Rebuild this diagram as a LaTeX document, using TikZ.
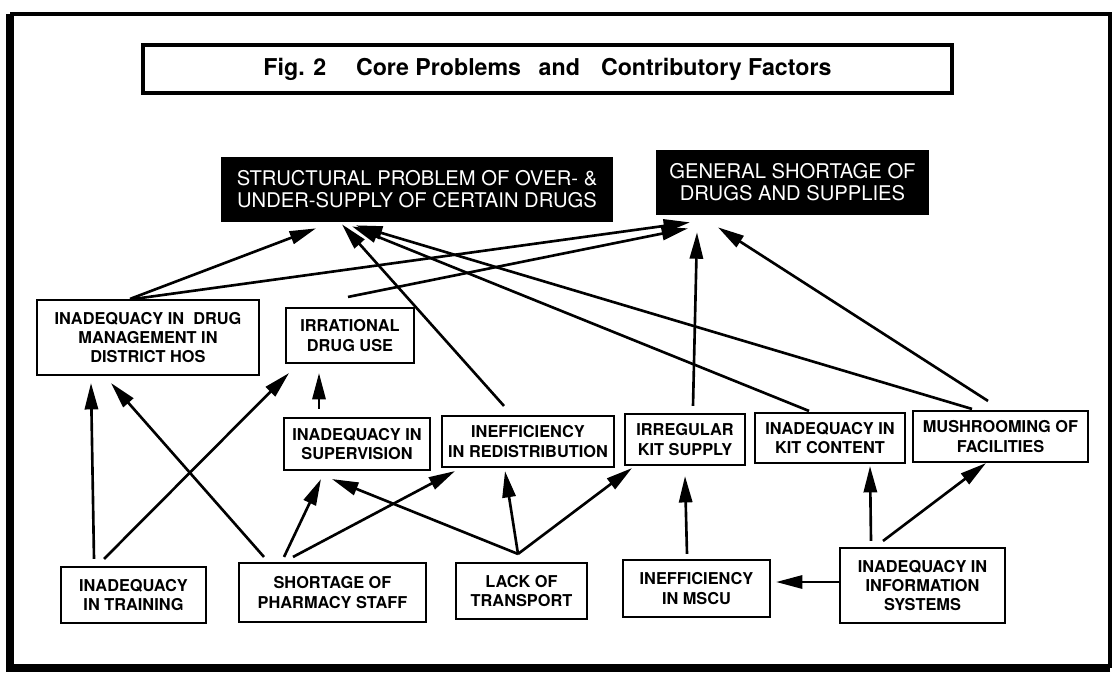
\documentclass[tikz,border=0pt]{standalone}
\usepackage{fontspec}
\setmainfont{TeX Gyre Heros}
\usetikzlibrary{arrows.meta,calc}
\tikzset{>={Triangle[length=15pt,width=7.5pt]}}
\tikzset{
  factor/.style={draw, line width=1.2pt, align=center, inner sep=2pt,
    font=\fontsize{9.3}{11}\selectfont\bfseries},
  core/.style={fill=black, text=white, align=center,
    font=\fontsize{11.5}{12.5}\selectfont},
  boxsize/.style 2 args={minimum width=#1*0.02cm, minimum height=#2*0.02cm},
  link/.style={->, line width=1.5pt}
}

\begin{document}
\begin{tikzpicture}[x=0.02cm, y=-0.02cm]
    \useasboundingbox (0,0) rectangle (1114,676);
    % frame
    \draw[line width=1.8pt] (10,14) -- (1110,14) -- (1110,668);
    \draw[line width=4pt] (1110,668) -- (10,668) -- (10,14);
    % title
    \node[draw, line width=1.8pt, boxsize={809}{48},
      font=\fontsize{13.2}{15}\selectfont\bfseries] (title) at (547.5,69)
      {Fig. 2\hspace{17pt}Core Problems\hspace{10pt}and\hspace{12pt}Contributory Factors};
    % core problems
    \node[core, boxsize={392}{65}] (struct) at (417,189.5)
      {STRUCTURAL PROBLEM OF OVER- \&\\UNDER-SUPPLY OF CERTAIN DRUGS};
    \node[core, boxsize={273}{65}] (general) at (792.5,182.5)
      {GENERAL SHORTAGE OF\\DRUGS AND SUPPLIES};
    % middle row
    \node[factor, boxsize={222}{75}] (drug) at (148,337.5)
      {INADEQUACY IN \ DRUG\\MANAGEMENT IN\\DISTRICT HOS};
    \node[factor, boxsize={128}{55}] (irr) at (350,335.5) {IRRATIONAL\\DRUG USE};
    \node[factor, boxsize={146}{52}] (superv) at (357,444) {INADEQUACY IN\\SUPERVISION};
    \node[factor, boxsize={172}{51}] (redist) at (528,441.5) {INEFFICIENCY\\IN REDISTRIBUTION};
    \node[factor, boxsize={120}{51}] (kitsup) at (685,439.5) {IRREGULAR\\KIT SUPPLY};
    \node[factor, boxsize={150}{50}] (kitcon) at (830,438) {INADEQUACY IN\\KIT CONTENT};
    \node[factor, boxsize={175}{51}] (mush) at (1000.5,436.5) {MUSHROOMING OF\\FACILITIES};
    % bottom row
    \node[factor, boxsize={145}{56}] (train) at (133.5,595) {INADEQUACY\\IN TRAINING};
    \node[factor, boxsize={187}{59}] (pharm) at (332.5,592.5) {SHORTAGE OF\\PHARMACY STAFF};
    \node[factor, boxsize={131}{56}] (transp) at (521.5,591) {LACK OF\\TRANSPORT};
    \node[factor, boxsize={147}{57}] (mscu) at (696.5,588.5) {INEFFICIENCY\\IN MSCU};
    \node[factor, boxsize={165}{75}] (info) at (922.5,585.5)
      {INADEQUACY IN\\INFORMATION\\SYSTEMS};
    % links to the core problems
    \draw[link] ($(drug.north)+(-18,0)$) -- ($(struct.south)+(-101,6)$);
    \draw[link] ($(drug.north)+(-14,0)$) -- ($(general.south)+(-102.5,7)$);
    \draw[link] ($(irr.north)+(-2,-10)$) -- ($(general.south)+(-104.5,13)$);
    \draw[link] ($(redist.north)+(-24,-9)$) -- ($(struct.south)+(-75,2)$);
    \draw[link] ($(kitcon.north)+(-21,-1)$) -- ($(struct.south)+(-65,4)$);
    \draw[link] ($(mush.north)+(-28.5,-1)$) -- ($(struct.south)+(-61,3)$);
    \draw[link] ($(mush.north)+(-12.5,-9)$) -- ($(general.south)+(-74.5,12)$);
    \draw[link] ($(kitsup.north)+(8,-7)$) -- ($(general.south)+(-95.5,17)$);
    % links between the factors
    \draw[link] ($(train.north)+(-39.5,-7)$) -- ($(drug.south)+(-57,7)$);
    \draw[link] ($(train.north)+(-29.5,-7)$) -- ($(irr.south)+(-61,9)$);
    \draw[link] ($(pharm.north)+(-68.5,-5)$) -- ($(drug.south)+(-37,7)$);
    \draw[link] ($(superv.north)+(-38,-8)$) -- ($(irr.south)+(-31,9)$);
    \draw[link] ($(pharm.north)+(-48.5,-5)$) -- ($(superv.south)+(-36,8)$);
    \draw[link] ($(pharm.north)+(-39.5,-5)$) -- ($(redist.south)+(-73,3)$);
    \draw[link] ($(transp.north)+(-3.5,-8)$) -- ($(superv.south)+(-25,8)$);
    \draw[link] ($(transp.north)+(-3.5,-8)$) -- ($(redist.south)+(-23,3)$);
    \draw[link] ($(transp.north)+(-3.5,-8)$) -- ($(kitsup.south)+(-53,2)$);
    \draw[link] ($(mscu.north)+(-9.5,-5)$) -- ($(kitsup.south)+(0,10)$);
    \draw[link] ($(info.west)+(0,-3.5)$) -- ($(mscu.east)+(5,-6.5)$);
    \draw[link] ($(info.north)+(-51.5,-6)$) -- ($(kitcon.south)+(40,2)$);
    \draw[link] ($(info.north)+(-39.5,-6)$) -- ($(mush.south)+(-14.5,0)$);
\end{tikzpicture}
\end{document}
